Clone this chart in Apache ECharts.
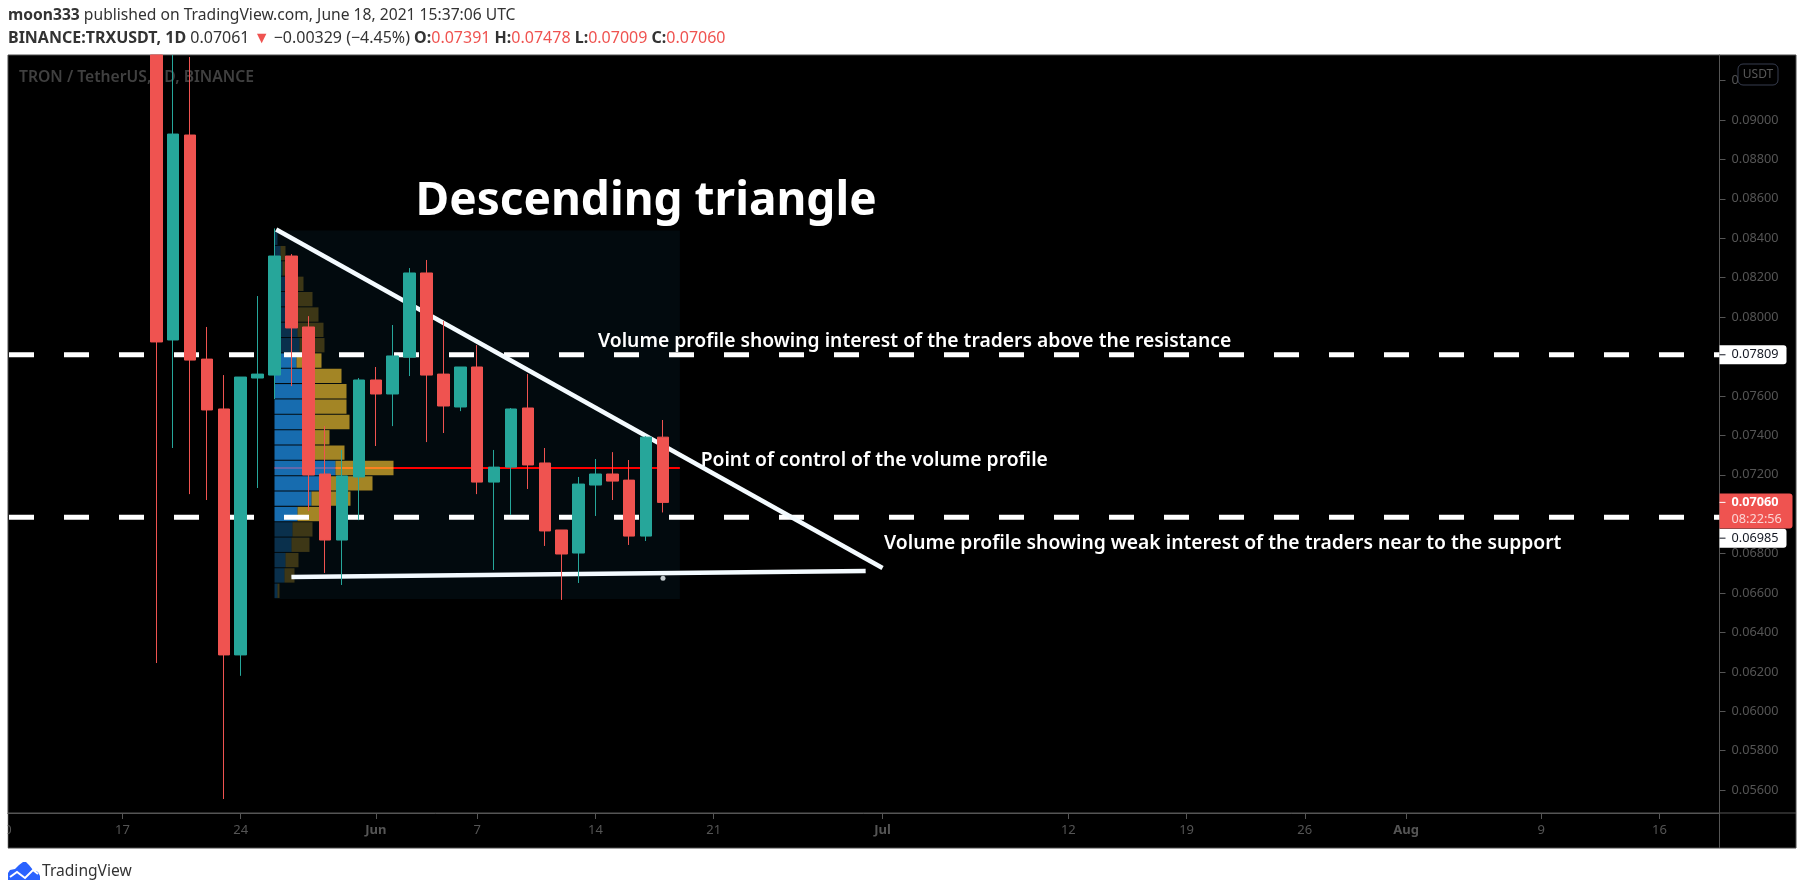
<!DOCTYPE html>
<html>
<head>
<meta charset="utf-8">
<style>html,body{margin:0;padding:0;background:#fff}#c{width:1805px;height:895px}</style>
<script src="https://cdn.jsdelivr.net/npm/echarts@6/dist/echarts.min.js"></script>
</head>
<body>
<div id="c"></div>
<script>
const FONT = '"Noto Sans", sans-serif';
// Days are counted from 17 May 2021 (day 0).
const candleDates = ['May 19','May 20','May 21','May 22','May 23','May 24','May 25','May 26','May 27','May 28','May 29','May 30','May 31','Jun 1','Jun 2','Jun 3','Jun 4','Jun 5','Jun 6','Jun 7','Jun 8','Jun 9','Jun 10','Jun 11','Jun 12','Jun 13','Jun 14','Jun 15','Jun 16','Jun 17','Jun 18'];
const opens  = [.0945,.07884,.08924,.07787,.07534,.06286,.07691,.07706,.08310,.07950,.07204,.06869,.07189,.07681,.07610,.07797,.08224,.07711,.07544,.07747,.07163,.07239,.07539,.07260,.06920,.06803,.07148,.07204,.07173,.06889,.07391];
const closes = [.07874,.08929,.07782,.07529,.06286,.07696,.07711,.08310,.07945,.07199,.06869,.07194,.07681,.07610,.07803,.08224,.07706,.07549,.07747,.07163,.07239,.07534,.07250,.06915,.06798,.07153,.07204,.07168,.06889,.07391,.07060];
const highs  = [.0965,.0965,.0932,.07950,.07706,.07696,.08107,.08450,.08320,.08005,.07447,.07326,.07691,.07747,.07960,.08249,.08290,.07980,.07747,.07858,.07326,.07539,.07711,.07336,.06920,.07189,.07280,.07315,.07275,.07396,.07478];
const lows   = [.06245,.07336,.07102,.07072,.05555,.0618,.07133,.07584,.07650,.07016,.06702,.06641,.06970,.07346,.07447,.07701,.07366,.07412,.07523,.07102,.06717,.06996,.07128,.06839,.06565,.06651,.06991,.07072,.06844,.06864,.07009];
const firstCandleDay = 2;

const yTicks = [.056,.058,.060,.062,.064,.066,.068,.070,.072,.074,.076,.078,.080,.082,.084,.086,.088,.090,.092];
const xTickDays = [0,7,15,21,28,35,45,56,63,70,76,84,91];
const xTickLabels = ['17','24','Jun','7','14','21','Jul','12','19','26','Aug','9','16'];
const xStrong = ['Jun','Jul','Aug'];

const dashedLevels = [0.07809, 0.06985];
const pricePoc = 0.07234;
const profileStartDay = 9, profileEndDay = 33;
const profileTop = 0.08439, profileBottom = 0.06570;
const profileBuy  = [3,6,8,13,19,23,23,25,22,33,31,31,33,35,35,61,53,37,23,18,17,11,10,3];
const profileSell = [0,5,11,16,19,21,26,25,25,34,41,41,42,20,35,58,45,39,22,20,18,13,10,2];
const valueAreaFirst = 8, valueAreaLast = 18;
const volumePerDay = 16.89;

const resistanceLine = [[9.1,0.08445],[45,0.06727]];
const supportLine = [[10,0.06681],[44,0.06712]];
const supportDot = [[32,0.06675]];

const noteTexts = ['Descending triangle','Volume profile showing interest of the traders above the resistance','Point of control of the volume profile','Volume profile showing weak interest of the traders near to the support'];
const noteDays = [17.35,28.15,34.23,45.09];
const notePrices = [0.08586,0.07874,0.07275,0.06849];

const levelTags = [0.07809, 0.06985];
const lastPrice = 0.07060, countdown = '08:22:56';

const GREEN = '#26a69a', RED = '#ef5350', AXIS = '#555555', PANEL_EDGE = '#4a4a4a';
const xMin = (8 - 122.5) / 16.89, xMax = (1719.5 - 122.5) / 16.89;
const yMin = 0.05484, yMax = 0.0933;

// values above the visible range are held at the top edge of the plot, as a clipped chart shows them
const candleData = candleDates.map((d, i) => [firstCandleDay + i, Math.min(opens[i], yMax), Math.min(closes[i], yMax), lows[i], Math.min(highs[i], yMax)]);

function hLine(price, d0, d1) { return [[d0, price], [d1, price]]; }

const chart = echarts.init(document.getElementById('c'));
chart.setOption({
  animation: false,
  backgroundColor: '#ffffff',
  title: [
    {left: 8, top: 8, padding: 0, z: 20,
     text: '{b|moon333} published on TradingView.com, June 18, 2021 15:37:06 UTC',
     textStyle: {fontFamily: FONT, fontSize: 15.65, fontWeight: 'normal', color: '#333333',
       rich: {b: {fontFamily: FONT, fontSize: 15.65, fontWeight: 'bold', color: '#333333'}}}},
    {left: 8, top: 30, padding: 0, z: 20,
     text: '{b|BINANCE:TRXUSDT, 1D} 0.07061 {r|▼} −0.00329 (−4.45%) {b|O:}{r|0.07391} {b|H:}{r|0.07478} {b|L:}{r|0.07009} {b|C:}{r|0.07060}',
     textStyle: {fontFamily: FONT, fontSize: 16, fontWeight: 'normal', color: '#333333',
       rich: {b: {fontFamily: FONT, fontSize: 16, fontWeight: 'bold', color: '#333333'},
              r: {fontFamily: FONT, fontSize: 16, color: RED}}}}
  ],
  grid: {left: 8, top: 55, width: 1711.5, height: 758, show: false},
  xAxis: {
    type: 'value', min: xMin, max: xMax, z: 3,
    axisLine: {onZero: false, lineStyle: {color: AXIS, width: 1}},
    axisTick: {length: 6, lineStyle: {color: AXIS}, customValues: xTickDays},
    splitLine: {show: false},
    axisLabel: {
      customValues: xTickDays, margin: 11,
      color: AXIS, fontFamily: FONT, fontSize: 13,
      formatter: function (v) {
        const s = xTickLabels[xTickDays.indexOf(v)];
        return xStrong.indexOf(s) >= 0 ? '{s|' + s + '}' : s;
      },
      rich: {s: {fontFamily: FONT, fontSize: 13, fontWeight: 'bold', color: AXIS}}
    }
  },
  yAxis: {
    type: 'value', position: 'right', min: yMin, max: yMax, z: 3,
    axisLine: {show: true, onZero: false, lineStyle: {color: AXIS, width: 1}},
    axisTick: {show: true, length: 6, lineStyle: {color: AXIS}, customValues: yTicks},
    splitLine: {show: false},
    axisLabel: {customValues: yTicks, margin: 12, color: AXIS, fontFamily: FONT, fontSize: 12.7,
      formatter: v => v.toFixed(5)}
  },
  series: [
    // volume profile backdrop
    {type: 'custom', z: 1, silent: true, data: [[profileStartDay, profileTop, profileEndDay, profileBottom]],
     encode: {x: [0, 2], y: [1, 3]},
     renderItem: (p, api) => {
       const a = api.coord([api.value(0), api.value(1)]), b = api.coord([api.value(2), api.value(3)]);
       return {type: 'rect', shape: {x: a[0], y: a[1], width: b[0] - a[0], height: b[1] - a[1]}, style: {fill: '#020a0e'}};
     }},
    // point of control line
    {type: 'line', z: 2, silent: true, symbol: 'none', data: hLine(pricePoc, profileStartDay, profileEndDay),
     lineStyle: {color: '#ff0000', width: 2}},
    // volume profile rows
    {type: 'custom', z: 3, silent: true,
     data: profileBuy.map((b, i) => [i, b, profileSell[i]]),
     encode: {x: -1, y: -1},
     renderItem: (p, api) => {
       const i = api.value(0), buy = api.value(1), sell = api.value(2);
       const rowH = (profileTop - profileBottom) / profileBuy.length;
       const top = api.coord([profileStartDay, profileTop - i * rowH]);
       const bot = api.coord([profileStartDay, profileTop - (i + 1) * rowH]);
       const perVol = api.size([1, 0])[0] / volumePerDay;
       const bright = i >= valueAreaFirst && i <= valueAreaLast;
       const w1 = buy * perVol, w2 = sell * perVol, h = bot[1] - top[1] - 1;
       return {type: 'group', children: [
         {type: 'rect', shape: {x: top[0], y: top[1], width: w1, height: h},
          style: {fill: bright ? 'rgba(33,150,243,0.7)' : 'rgba(33,150,243,0.27)'}},
         {type: 'rect', shape: {x: top[0] + w1, y: top[1], width: w2, height: h},
          style: {fill: bright ? 'rgba(251,200,50,0.65)' : 'rgba(251,200,50,0.24)'}}
       ]};
     }},
    // dashed levels
    ...dashedLevels.map(lv => ({type: 'line', z: 4, silent: true, symbol: 'none', data: hLine(lv, xMin, xMax),
      lineStyle: {color: '#ffffff', width: 5, type: [25, 30], dashOffset: -1}})),
    // triangle
    {type: 'line', z: 5, silent: true, symbol: 'none', data: resistanceLine, lineStyle: {color: '#f4fbff', width: 4.5}},
    {type: 'line', z: 5, silent: true, symbol: 'none', data: supportLine, lineStyle: {color: '#f4fbff', width: 4.5}},
    {type: 'scatter', z: 5, silent: true, symbolSize: 5, data: supportDot, itemStyle: {color: '#f4fbff'}},
    // candles
    {type: 'candlestick', z: 6, silent: true, barWidth: 12, data: candleData,
     encode: {x: 0, y: [1, 2, 3, 4]},
     itemStyle: {color: GREEN, color0: RED, borderColor: GREEN, borderColor0: RED, borderWidth: 1}},
    // annotations
    {type: 'custom', z: 7, silent: true,
     data: noteTexts.map((t, i) => [noteDays[i], notePrices[i], i]),
     encode: {x: 0, y: 1},
     renderItem: (p, api) => {
       const i = api.value(2), c = api.coord([api.value(0), api.value(1)]);
       return {type: 'text', x: c[0], y: c[1], style: {text: noteTexts[i], fill: '#ffffff', align: 'left', verticalAlign: 'middle',
         fontFamily: FONT, fontWeight: i === 0 ? 'bold' : 600, fontSize: i === 0 ? 46 : 19.3}};
     }},
    // price tags on the axis
    {type: 'custom', z: 10, silent: true, clip: false,
     data: levelTags.map((v, i) => [v, i]),
     encode: {y: 0, x: -1},
     renderItem: (p, api) => {
       const v = api.value(0), i = api.value(1);
       const x = p.coordSys.x + p.coordSys.width;
       const y = api.coord([xMax, v])[1] + (i === 1 ? 21 : 0);
       return {type: 'group', children: [
         {type: 'rect', shape: {x: x, y: y - 9.5, width: 67, height: 19, r: [0, 3, 3, 0]}, style: {fill: '#ffffff'}},
         {type: 'line', shape: {x1: x, y1: y, x2: x + 6, y2: y}, style: {stroke: '#131722', lineWidth: 1}},
         {type: 'text', x: x + 12, y: y, style: {text: v.toFixed(5), fill: '#131722', align: 'left', verticalAlign: 'middle', fontFamily: FONT, fontSize: 12.7}}
       ]};
     }},
    {type: 'custom', z: 11, silent: true, clip: false,
     data: [[lastPrice]],
     encode: {y: 0, x: -1},
     renderItem: (p, api) => {
       const v = api.value(0);
       const x = p.coordSys.x + p.coordSys.width;
       const y = api.coord([xMax, v])[1];
       return {type: 'group', children: [
         {type: 'rect', shape: {x: x, y: y - 9, width: 73, height: 35, r: [0, 3, 3, 0]}, style: {fill: RED}},
         {type: 'line', shape: {x1: x, y1: y, x2: x + 6, y2: y}, style: {stroke: '#ffffff', lineWidth: 1}},
         {type: 'text', x: x + 12, y: y, style: {text: v.toFixed(5), fill: '#ffffff', align: 'left', verticalAlign: 'middle', fontFamily: FONT, fontSize: 12.7, fontWeight: 'bold'}},
         {type: 'text', x: x + 12, y: y + 17, style: {text: countdown, fill: '#fbd5d4', align: 'left', verticalAlign: 'middle', fontFamily: FONT, fontSize: 12.7}}
       ]};
     }}
  ],
  graphic: [
    {type: 'rect', z: -10, silent: true, shape: {x: 8, y: 55, width: 1788, height: 793}, style: {fill: '#000000', stroke: PANEL_EDGE, lineWidth: 1}},
    {type: 'line', z: -9, silent: true, shape: {x1: 8, y1: 813, x2: 1796, y2: 813}, style: {stroke: AXIS, lineWidth: 1}},
    {type: 'line', z: -9, silent: true, shape: {x1: 1719.5, y1: 55, x2: 1719.5, y2: 848}, style: {stroke: AXIS, lineWidth: 1}},
    {type: 'text', z: -8, silent: true, x: 19, y: 69.5, style: {text: 'TRON / TetherUS, 1D, BINANCE', fill: '#404040', fontFamily: FONT, fontSize: 15.7, fontWeight: 600}},
    {type: 'text', z: 1, silent: true, x: 4.3, y: 830.5, style: {text: '10', fill: AXIS, align: 'center', verticalAlign: 'middle', fontFamily: FONT, fontSize: 13}},
    {type: 'rect', z: 2, silent: true, shape: {x: 0, y: 814, width: 7.5, height: 40}, style: {fill: '#ffffff'}},
    {type: 'rect', z: 30, silent: true, shape: {x: 1738, y: 64, width: 40, height: 21, r: 5}, style: {fill: '#000000', stroke: '#363c4e', lineWidth: 1}},
    {type: 'text', z: 31, silent: true, x: 1758, y: 74.5, style: {text: 'USDT', fill: '#5a5a5a', align: 'center', verticalAlign: 'middle', fontFamily: FONT, fontSize: 12}},
    // TradingView mark
    {type: 'polygon', z: 5, silent: true, shape: {points: [[8,880],[8,873],[10,870],[15,869],[19,865],[23,862],[26,862],[29,865],[33,870],[38,872],[40,876],[40,880]]}, style: {fill: '#2962ff'}},
    {type: 'polyline', z: 6, silent: true, shape: {points: [[10, 877], [17, 872], [25, 878], [33, 870], [38, 874]]}, style: {stroke: '#ffffff', fill: null, lineWidth: 2}},
    {type: 'text', z: 5, silent: true, x: 42, y: 872, style: {text: 'TradingView', fill: '#333333', verticalAlign: 'middle', fontFamily: FONT, fontSize: 15.6}}
  ]
});
</script>
</body>
</html>
